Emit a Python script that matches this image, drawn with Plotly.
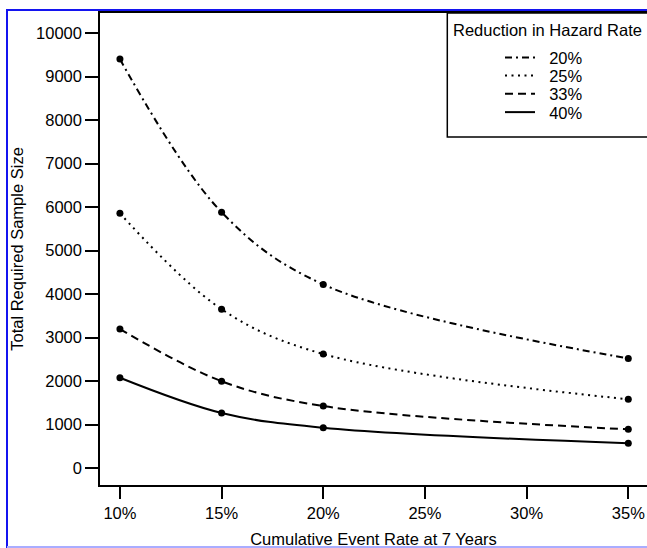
import plotly.graph_objects as go

# ---- data ----
event_rate = [10, 15, 20, 35]                 # cumulative event rate at 7 years (%)
series_names = ["20%", "25%", "33%", "40%"]   # reduction in hazard rate
n_20 = [9400, 5880, 4220, 2520]
n_25 = [5855, 3650, 2620, 1580]
n_33 = [3195, 1995, 1425, 890]
n_40 = [2075, 1265, 925, 570]
x_ticks = [10, 15, 20, 25, 30, 35]
x_tick_labels = ["10%", "15%", "20%", "25%", "30%", "35%"]
y_ticks = [0, 1000, 2000, 3000, 4000, 5000, 6000, 7000, 8000, 9000, 10000]

series_values = [n_20, n_25, n_33, n_40]
dash_styles = ["7px,4px,2px,4px", "2px,4.5px", "8px,5px", "solid"]
legend_ids = ["legend", "legend2", "legend3", "legend4"]

FONT = "Liberation Sans, Arial, Helvetica, sans-serif"
FS = 16.5

# plot area in pixels: left 100, right 647, top 13, bottom 485
L, R, T, B = 100, 647, 13, 485
W, H = R - L, B - T


def px_x(xp):
    return (xp - L) / W


def px_y(yp):
    return (B - yp) / H


fig = go.Figure()

for name, vals, dash, lg in zip(series_names, series_values, dash_styles, legend_ids):
    fig.add_trace(go.Scatter(
        x=event_rate, y=vals, mode="lines", name="\u00a0\u00a0" + name,
        line=dict(color="black", width=2, dash=dash, shape="spline"),
        legend=lg, showlegend=True, hoverinfo="skip",
    ))
    fig.add_trace(go.Scatter(
        x=event_rate, y=vals, mode="markers", showlegend=False,
        marker=dict(color="black", size=7), legend=lg,
    ))

legend_centers = [57.7, 75.8, 94.1, 112.4]
leg_layout = {}
for lg, yc in zip(legend_ids, legend_centers):
    leg_layout[lg] = dict(
        x=px_x(500), xanchor="left", y=px_y(yc), yanchor="middle",
        bgcolor="rgba(0,0,0,0)", borderwidth=0,
        font=dict(family=FONT, size=FS, color="black"),
        itemwidth=30,
    )

fig.update_layout(
    width=647, height=548,
    margin=dict(l=L, r=647 - R, t=T, b=548 - B),
    paper_bgcolor="white", plot_bgcolor="white",
    font=dict(family=FONT, size=FS, color="black"),
    showlegend=True,
    **leg_layout,
    xaxis=dict(
        range=[9.02, 35.92], tickmode="array", tickvals=x_ticks, ticktext=x_tick_labels,
        ticks="outside", ticklen=12, tickwidth=1.5, tickcolor="black",
        showline=True, linecolor="black", linewidth=1.5, mirror=True,
        showgrid=False, zeroline=False,
        tickfont=dict(family=FONT, size=FS, color="black"),
        title=dict(text="Cumulative Event Rate at 7 Years", standoff=13,
                   font=dict(family=FONT, size=FS, color="black")),
    ),
    yaxis=dict(
        range=[-390, 10460], tickmode="array", tickvals=y_ticks, tickformat="d",
        ticks="outside", ticklen=13, tickwidth=1.5, tickcolor="black",
        showline=True, linecolor="black", linewidth=1.5, mirror=False,
        showgrid=False, zeroline=False,
        tickfont=dict(family=FONT, size=FS, color="black"),
        title=dict(text="Total Required Sample Size", standoff=8,
                   font=dict(family=FONT, size=FS, color="black")),
    ),
    annotations=[dict(
        text="Reduction in Hazard Rate", xref="paper", yref="paper",
        x=px_x(451), y=px_y(30), xanchor="left", yanchor="middle",
        showarrow=False, font=dict(family=FONT, size=FS, color="black"),
    )],
    shapes=[
        # legend box
        dict(type="rect", xref="paper", yref="paper", x0=px_x(447.3), x1=px_x(700),
             y0=px_y(137), y1=1, line=dict(color="black", width=1.5), layer="above"),
        # blue page frame
        dict(type="line", xref="paper", yref="paper", x0=px_x(7), x1=px_x(700),
             y0=px_y(10), y1=px_y(10), line=dict(color="#1414f0", width=2)),
        dict(type="line", xref="paper", yref="paper", x0=px_x(7), x1=px_x(7),
             y0=px_y(9), y1=px_y(548), line=dict(color="#1414f0", width=2)),
        dict(type="line", xref="paper", yref="paper", x0=px_x(7), x1=px_x(700),
             y0=px_y(547), y1=px_y(547), line=dict(color="#a9adff", width=2)),
    ],
)

fig.write_html(
    "out.html",
    config={"displayModeBar": False},
    post_script="document.body.style.margin='0';document.body.style.padding='0';"
                "document.body.style.overflow='hidden';",
)
